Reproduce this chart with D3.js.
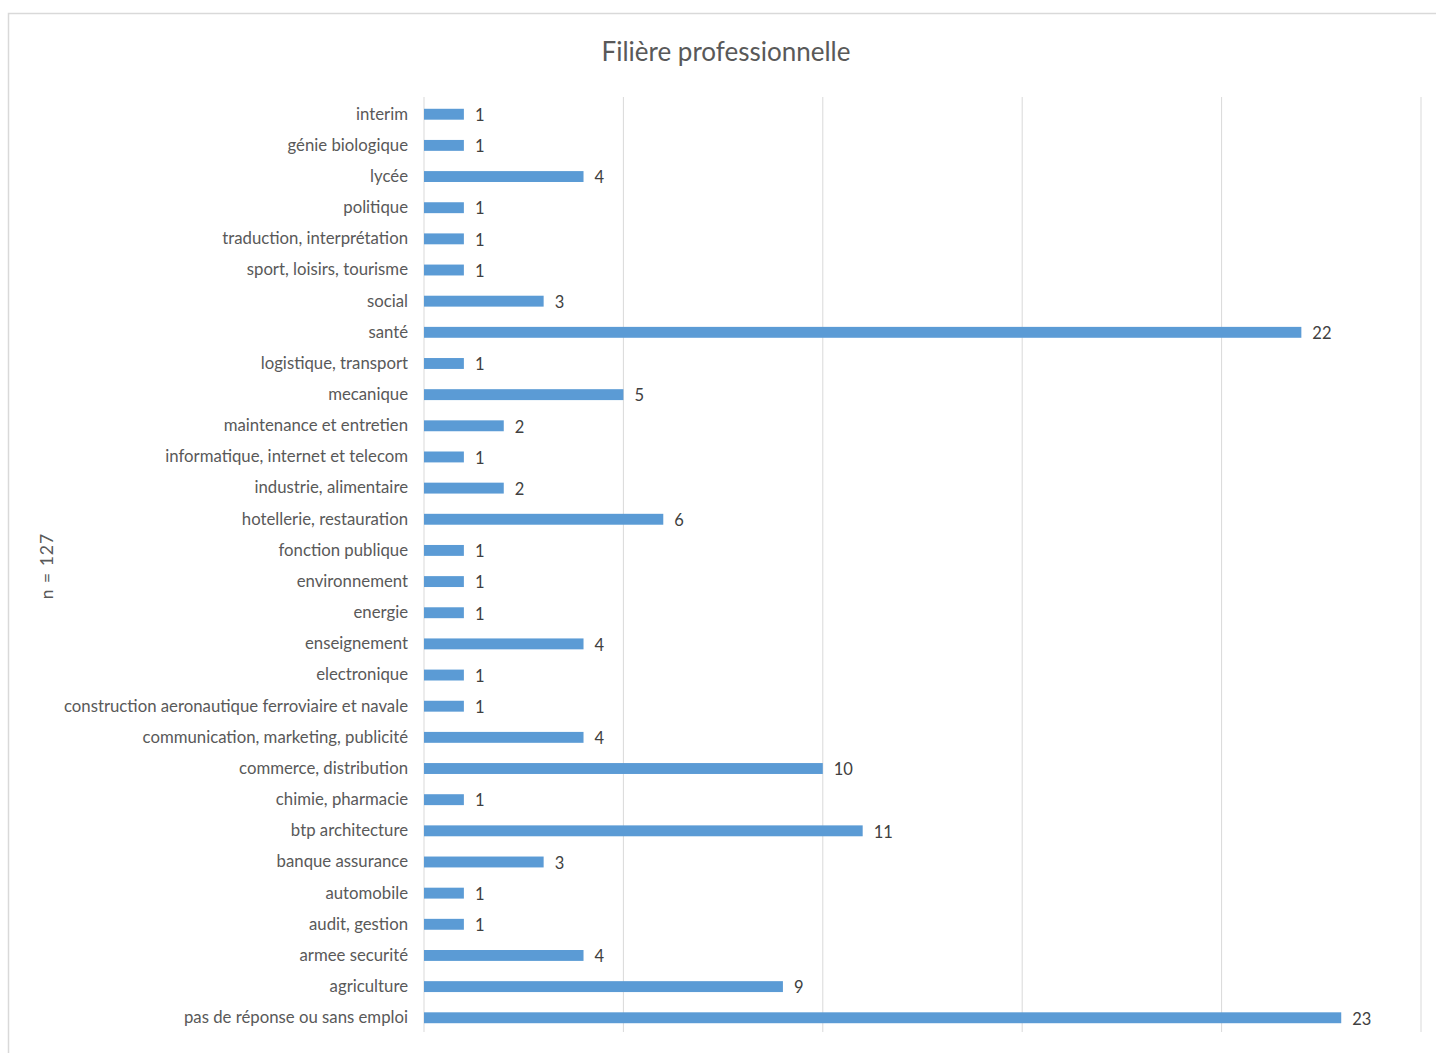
<!DOCTYPE html>
<html><head><meta charset="utf-8">
<script src="https://cdn.jsdelivr.net/npm/d3@7"></script>
<style>
body{margin:0;background:#fff;}
text{font-family:Lato,"Open Sans",sans-serif;}
</style></head>
<body>
<svg id="chart" width="1436" height="1053"></svg>
<script>
const categories = ["interim","génie biologique","lycée","politique","traduction, interprétation","sport, loisirs, tourisme","social","santé","logistique, transport","mecanique","maintenance et entretien","informatique, internet et telecom","industrie, alimentaire","hotellerie, restauration","fonction publique","environnement","energie","enseignement","electronique","construction aeronautique ferroviaire et navale","communication, marketing, publicité","commerce, distribution","chimie, pharmacie","btp architecture","banque assurance","automobile","audit, gestion","armee securité","agriculture","pas de réponse ou sans emploi"];
const values = [1,1,4,1,1,1,3,22,1,5,2,1,2,6,1,1,1,4,1,1,4,10,1,11,3,1,1,4,9,23];
const xTicks = [0,5,10,15,20,25];
const title = "Filière professionnelle";
const yTitle = "n = 127";

const svg = d3.select("#chart");
svg.append("rect").attr("x",8.5).attr("y",13.5).attr("width",1440).attr("height",1060)
  .attr("fill","#fff").attr("stroke","#d9d9d9").attr("stroke-width",1.5);

const x = d3.scaleLinear().domain([0,25]).range([424,1421]);
const y = d3.scaleBand().domain(categories).range([98.5,1033.5]).paddingInner(0.65).paddingOuter(0.33);

svg.append("g").selectAll("line").data(xTicks).join("line")
  .attr("x1",d=>x(d)).attr("x2",d=>x(d)).attr("y1",97).attr("y2",1032)
  .attr("stroke","#d9d9d9").attr("stroke-width",1);

const yAxis = d3.axisLeft(y).tickSize(0).tickPadding(16);
const gy = svg.append("g").attr("transform","translate(424,0)").call(yAxis);
gy.select(".domain").remove();
gy.attr("font-family",null);
gy.selectAll("text").attr("font-size",16.75).attr("fill","#595959")
  .style("font-family",'Lato,"Open Sans",sans-serif');

svg.append("g").selectAll("rect").data(values).join("rect")
  .attr("x",x(0)).attr("y",(d,i)=>y(categories[i]))
  .attr("width",d=>x(d)-x(0)).attr("height",y.bandwidth())
  .attr("fill","#5b9bd5");

svg.append("g").selectAll("text").data(values).join("text")
  .attr("x",d=>x(d)+11).attr("y",(d,i)=>y(categories[i])+y.bandwidth()/2+1)
  .attr("dy","0.35em").attr("font-size",16.5).attr("fill","#404040")
  .text(d=>d);

svg.append("text").attr("x",726).attr("y",61).attr("text-anchor","middle")
  .attr("font-size",26).attr("fill","#595959").text(title);

svg.append("text").attr("transform","translate(53,566) rotate(-90)")
  .attr("text-anchor","middle").attr("font-size",17.5).attr("letter-spacing",1).attr("fill","#595959")
  .text(yTitle);
</script>
</body></html>
